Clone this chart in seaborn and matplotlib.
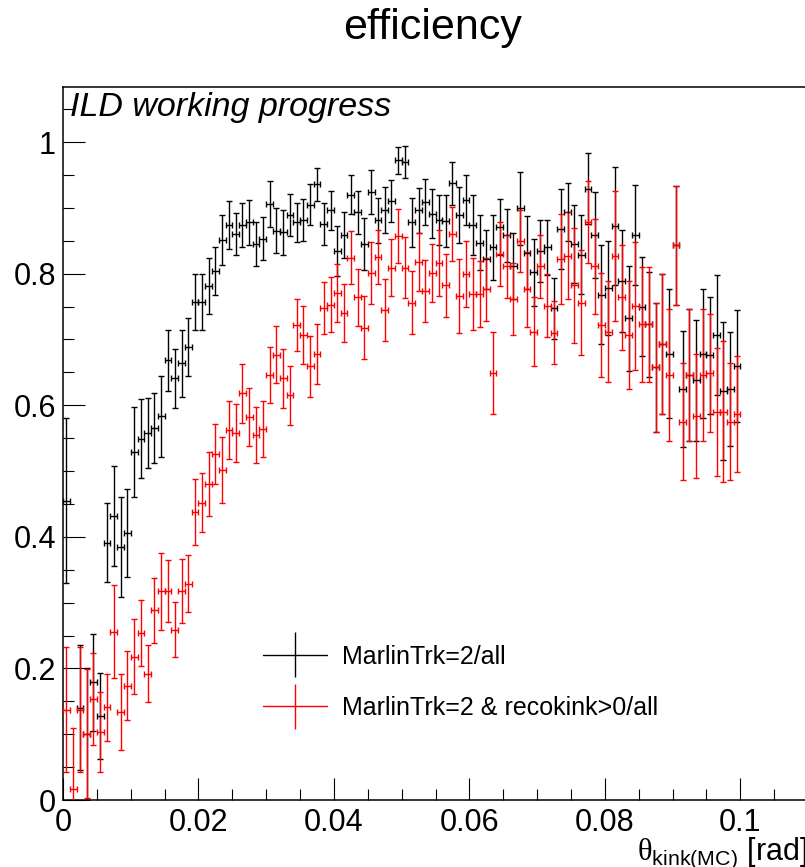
import numpy as np
import pandas as pd
import matplotlib
matplotlib.use("Agg")
import matplotlib.pyplot as plt
from matplotlib.legend_handler import HandlerErrorbar
from matplotlib.container import ErrorbarContainer
import seaborn as sns

# ---------------- data ----------------
bin_lo, bin_hi, n_bins = 0.0, 0.1, 100

eff_all = [
    0.455, np.nan, 0.140, 0.100, 0.179, 0.128, 0.391, 0.431, 0.385, 0.406,
    0.529, 0.549, 0.558, 0.565, 0.583, 0.668, 0.641, 0.664, 0.689, 0.757,
    0.757, 0.781, 0.804, 0.851, 0.874, 0.860, 0.874, 0.878, 0.845, 0.853,
    0.906, 0.865, 0.863, 0.889, 0.878, 0.882, 0.905, 0.936, 0.875, 0.896,
    0.835, 0.858, 0.920, 0.893, 0.845, 0.924, 0.881, 0.896, 0.911, 0.972,
    0.970, 0.878, 0.896, 0.909, 0.891, 0.882, 0.880, 0.937, 0.889, 0.912,
    0.874, 0.847, 0.822, 0.840, 0.871, 0.858, 0.811, 0.899, 0.832, 0.802,
    0.834, 0.840, 0.747, 0.868, 0.893, 0.845, 0.829, 0.929, 0.859, 0.768,
    0.778, 0.872, 0.789, 0.732, 0.859, 0.750, 0.723, 0.658, 0.693, 0.678,
    0.843, 0.625, 0.646, 0.638, 0.678, 0.676, 0.707, 0.621, 0.625, 0.659,
]
err_all = [
    0.125, np.nan, 0.095, 0.100, 0.074, 0.065, 0.060, 0.076, 0.076, 0.067,
    0.068, 0.060, 0.053, 0.053, 0.061, 0.047, 0.045, 0.051, 0.044, 0.043,
    0.042, 0.042, 0.037, 0.038, 0.037, 0.032, 0.033, 0.034, 0.033, 0.033,
    0.035, 0.034, 0.034, 0.032, 0.030, 0.032, 0.031, 0.025, 0.032, 0.030,
    0.038, 0.035, 0.030, 0.033, 0.040, 0.034, 0.034, 0.035, 0.032, 0.020,
    0.024, 0.037, 0.034, 0.035, 0.037, 0.038, 0.039, 0.032, 0.043, 0.038,
    0.045, 0.042, 0.045, 0.049, 0.043, 0.040, 0.050, 0.055, 0.055, 0.051,
    0.047, 0.042, 0.046, 0.061, 0.044, 0.060, 0.060, 0.054, 0.065, 0.075,
    0.072, 0.090, 0.078, 0.080, 0.076, 0.075, 0.080, 0.098, 0.107, 0.098,
    0.090, 0.088, 0.100, 0.092, 0.098, 0.089, 0.091, 0.105, 0.087, 0.085,
]
eff_kink = [
    0.137, 0.016, 0.137, 0.101, 0.153, 0.103, 0.141, 0.256, 0.134, 0.174,
    0.218, 0.254, 0.192, 0.288, 0.317, 0.317, 0.259, 0.318, 0.329, 0.438,
    0.452, 0.480, 0.526, 0.501, 0.562, 0.558, 0.618, 0.582, 0.555, 0.564,
    0.646, 0.677, 0.641, 0.615, 0.722, 0.707, 0.659, 0.678, 0.748, 0.753,
    0.771, 0.740, 0.824, 0.764, 0.718, 0.801, 0.825, 0.745, 0.809, 0.857,
    0.809, 0.756, 0.817, 0.774, 0.801, 0.816, 0.782, 0.860, 0.766, 0.799,
    0.769, 0.769, 0.776, 0.649, 0.830, 0.811, 0.761, 0.850, 0.776, 0.712,
    0.811, 0.751, 0.710, 0.822, 0.827, 0.782, 0.756, 0.878, 0.811, 0.722,
    0.712, 0.827, 0.764, 0.707, 0.751, 0.723, 0.723, 0.658, 0.693, 0.646,
    0.843, 0.575, 0.646, 0.584, 0.646, 0.649, 0.590, 0.590, 0.575, 0.587,
]
err_kink = [
    0.095, 0.093, 0.095, 0.098, 0.070, 0.061, 0.051, 0.070, 0.058, 0.052,
    0.057, 0.050, 0.043, 0.049, 0.059, 0.047, 0.042, 0.049, 0.044, 0.050,
    0.045, 0.049, 0.045, 0.050, 0.044, 0.044, 0.045, 0.044, 0.043, 0.043,
    0.043, 0.044, 0.045, 0.045, 0.040, 0.044, 0.046, 0.046, 0.040, 0.042,
    0.044, 0.044, 0.040, 0.043, 0.048, 0.047, 0.041, 0.047, 0.043, 0.041,
    0.046, 0.048, 0.044, 0.047, 0.044, 0.050, 0.048, 0.041, 0.056, 0.050,
    0.054, 0.050, 0.048, 0.062, 0.049, 0.048, 0.055, 0.047, 0.057, 0.053,
    0.048, 0.048, 0.048, 0.068, 0.066, 0.088, 0.080, 0.062, 0.072, 0.079,
    0.077, 0.099, 0.080, 0.082, 0.097, 0.087, 0.087, 0.098, 0.107, 0.100,
    0.090, 0.089, 0.100, 0.094, 0.100, 0.090, 0.097, 0.107, 0.089, 0.088,
]
series_labels = ["MarlinTrk=2/all", "MarlinTrk=2 & recokink>0/all"]
series_colors = ["#000000", "#ff0000"]

# ---------------- style ----------------
sns.set_theme(style="ticks")
plt.rcParams["font.family"] = ["Liberation Sans", "DejaVu Sans"]
plt.rcParams["mathtext.fontset"] = "custom"
plt.rcParams["mathtext.rm"] = "Liberation Serif"
plt.rcParams["mathtext.sf"] = "Liberation Sans"
plt.rcParams["text.color"] = "black"
plt.rcParams["axes.labelcolor"] = "black"
plt.rcParams["xtick.color"] = "black"
plt.rcParams["ytick.color"] = "black"
plt.rcParams["axes.edgecolor"] = "black"

edges = np.linspace(bin_lo, bin_hi, n_bins + 1)
centers = 0.5 * (edges[:-1] + edges[1:])
half_w = 0.5 * (edges[1:] - edges[:-1])

df = pd.DataFrame({
    "theta": np.concatenate([centers, centers]),
    "eff": np.concatenate([eff_all, eff_kink]),
    "err": np.concatenate([err_all, err_kink]),
    "xerr": np.concatenate([half_w, half_w]),
    "series": [series_labels[0]] * n_bins + [series_labels[1]] * n_bins,
})

W, H = 805, 867
fig = plt.figure(figsize=(W / 100, H / 100), dpi=100)
ax = fig.add_axes([63 / W, 67 / H, 745 / W, 713 / H])

proxies = []
for lab, col in zip(series_labels, series_colors):
    d = df[df["series"] == lab].dropna()
    ax.errorbar(d["theta"], d["eff"], yerr=d["err"], xerr=d["xerr"],
                fmt="none", ecolor=col, elinewidth=1.0, capsize=2.2,
                capthick=1.0, zorder=3)
    sns.scatterplot(data=d, x="theta", y="eff", color=col, s=1.5,
                    linewidth=0, ax=ax, legend=False, zorder=4)
    proxies.append(ax.errorbar([], [], yerr=[], fmt="-", color=col,
                               lw=1.0, elinewidth=1.0, capsize=0))

ax.set_xlim(0, 0.11)
ax.set_ylim(0, 1.0836)
ax.set_xticks([0, 0.02, 0.04, 0.06, 0.08, 0.1])
ax.set_xticklabels(["0", "0.02", "0.04", "0.06", "0.08", "0.1"])
ax.set_xticks(np.arange(0, 0.1101, 0.005), minor=True)
ax.set_yticks([0, 0.2, 0.4, 0.6, 0.8, 1.0])
ax.set_yticklabels(["0", "0.2", "0.4", "0.6", "0.8", "1"])
ax.set_yticks(np.arange(0, 1.08, 0.05), minor=True)
ax.tick_params(axis="both", which="major", direction="in", length=16,
               width=0.8, labelsize=22, colors="black")
ax.tick_params(axis="both", which="minor", direction="in", length=8,
               width=0.8)
ax.tick_params(axis="x", which="major", pad=6)
ax.tick_params(axis="y", which="major", pad=5)
ax.tick_params(top=False, right=False, which="both")
for s in ax.spines.values():
    s.set_color("black")
    s.set_linewidth(1.1)
ax.set_ylabel("")

ax.set_xlabel(r"$\mathrm{\theta}_{\mathsf{kink(MC)}}$ [rad]", fontsize=22,
              ha="right", color="black")
ax.xaxis.set_label_coords(1.0, -0.05)
ax.xaxis.label.set_verticalalignment("top")

ax.text(0.009, 0.971, "ILD working progress", transform=ax.transAxes,
        fontsize=24.5, style="italic", ha="left", va="center", color="black")

fig.text(433 / W, 1 - 28 / H, "efficiency", ha="center", va="center",
         fontsize=31, color="black")

leg = ax.legend(proxies, series_labels, loc="center left",
                bbox_to_anchor=(0.268, 0.165), frameon=False, fontsize=18,
                handlelength=2.56, handletextpad=0.6, labelspacing=1.1,
                borderpad=0, borderaxespad=0, labelcolor="black",
                handler_map={ErrorbarContainer: HandlerErrorbar(xerr_size=0.9)})

fig.savefig("out.png", dpi=100)
